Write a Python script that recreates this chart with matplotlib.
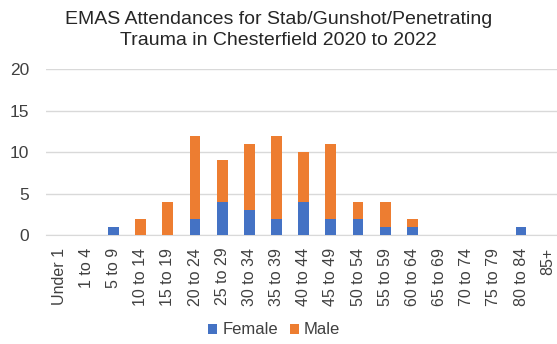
import matplotlib
matplotlib.use("Agg")
import matplotlib.pyplot as plt
import numpy as np

plt.rcParams['font.family'] = ['Liberation Sans', 'DejaVu Sans']

age_groups = ["Under 1", "1 to 4", "5 to 9", "10 to 14", "15 to 19", "20 to 24",
              "25 to 29", "30 to 34", "35 to 39", "40 to 44", "45 to 49",
              "50 to 54", "55 to 59", "60 to 64", "65 to 69", "70 to 74",
              "75 to 79", "80 to 84", "85+"]
female = [0, 0, 1, 0, 0, 2, 4, 3, 2, 4, 2, 2, 1, 1, 0, 0, 0, 1, 0]
male = [0, 0, 0, 2, 4, 10, 5, 8, 10, 6, 9, 2, 3, 1, 0, 0, 0, 0, 0]
y_ticks = [0, 5, 10, 15, 20]

BLUE = "#4472C4"
ORANGE = "#ED7D31"

W, H = 557, 344
fig = plt.figure(figsize=(W / 100, H / 100), dpi=100)
left_px, right_px = 45.6, 561.8
top_px, bottom_px = 69.0, 235.3
ax = fig.add_axes([left_px / W, 1 - bottom_px / H,
                   (right_px - left_px) / W, (bottom_px - top_px) / H])

x = np.arange(len(age_groups))
ax.bar(x, female, width=0.4, color=BLUE, label="Female", zorder=3)
ax.bar(x, male, width=0.4, bottom=female, color=ORANGE, label="Male", zorder=3)

ax.set_xlim(-0.5, len(age_groups) - 0.5)
ax.set_ylim(0, 20)
ax.set_yticks(y_ticks)
ax.set_xticks(x)
ax.set_xticklabels(age_groups, rotation=90, fontsize=11.5, color="#404040")
ax.tick_params(axis="y", labelsize=12.5, colors="#404040", length=0, pad=12)
ax.tick_params(axis="x", length=0, pad=9)
ax.grid(axis="y", color="#d9d9d9", linewidth=1, zorder=0)
for s in ["top", "right", "left"]:
    ax.spines[s].set_visible(False)
ax.spines["bottom"].set_color("#d9d9d9")

fig.text(0.5, 1 - 30 / H, "EMAS Attendances for Stab/Gunshot/Penetrating\nTrauma in Chesterfield 2020 to 2022",
         ha="center", va="center", fontsize=14, color="#262626", linespacing=1.35)

fig.legend(loc="center", bbox_to_anchor=(274 / W, 1 - 330 / H), ncol=2, frameon=False,
           fontsize=12, handlelength=0.55, handleheight=0.55, handletextpad=0.3,
           columnspacing=0.7, labelcolor="#404040")

fig.savefig("out.png", dpi=100)
